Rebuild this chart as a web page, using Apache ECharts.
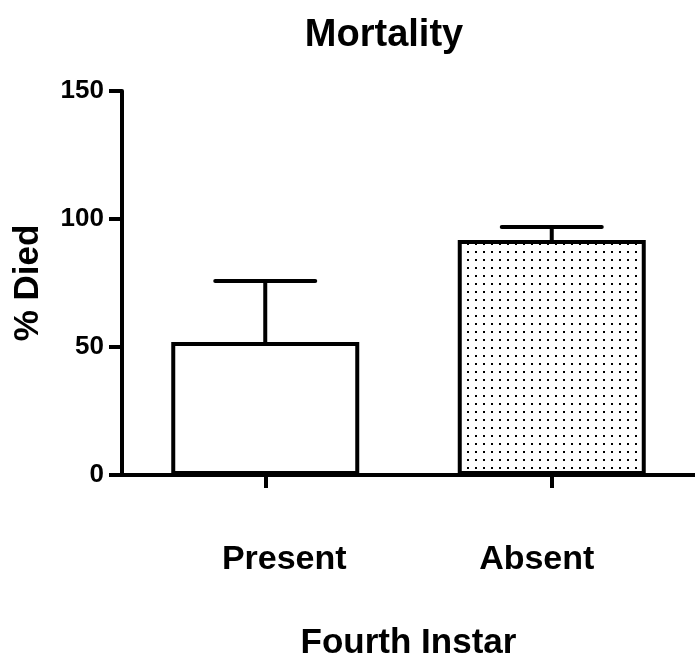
<!DOCTYPE html>
<html>
<head>
<meta charset="utf-8">
<script src="https://cdn.jsdelivr.net/npm/echarts@6/dist/echarts.min.js"></script>
<style>
  html, body { margin: 0; padding: 0; background: #fff; }
  #chart { width: 695px; height: 663px; }
</style>
</head>
<body>
<div id="chart"></div>
<script>
var categories = ['Present', 'Absent'];
var meanValues = [52, 91.8];
var errorValues = [23.8, 5.1];
var yTicks = [0, 50, 100, 150];

var FONT = '"Liberation Sans", Arial, sans-serif';

// dotted fill for the second bar
function dotPattern() {
    var c = document.createElement('canvas');
    c.width = 8;
    c.height = 8;
    var ctx = c.getContext('2d');
    ctx.fillStyle = '#fff';
    ctx.fillRect(0, 0, 8, 8);
    ctx.fillStyle = '#000';
    ctx.fillRect(3, 3, 2, 2);
    return c;
}

var dom = document.getElementById('chart');
var myChart = echarts.init(dom, null, { renderer: 'canvas' });

var barData = meanValues.map(function (v, i) {
    return {
        value: v,
        itemStyle: {
            color: i === 0 ? '#fff' : { image: dotPattern(), repeat: 'repeat' }
        }
    };
});

var errData = meanValues.map(function (v, i) {
    return [i, v, v + errorValues[i]];
});

var option = {
    animation: false,
    backgroundColor: '#fff',
    title: {
        text: 'Mortality',
        left: 379,
        top: 12,
        textAlign: 'center',
        textStyle: { fontFamily: FONT, fontWeight: 'bold', fontSize: 38, color: '#000' }
    },
    grid: {
        left: 122, right: 0, top: 91, bottom: 188,
        containLabel: false,
        outerBoundsMode: 'none'
    },
    xAxis: {
        type: 'category',
        data: [
            { value: categories[0], textStyle: { padding: [0, 0, 0, 38] } },
            { value: categories[1], textStyle: { padding: [0, 30, 0, 0] } }
        ],
        axisLine: { lineStyle: { color: '#000', width: 4 } },
        axisTick: {
            show: true,
            alignWithLabel: true,
            inside: false,
            length: 13,
            lineStyle: { color: '#000', width: 4 }
        },
        axisLabel: {
            margin: 68,
            fontFamily: FONT, fontWeight: 'bold', fontSize: 34, color: '#000'
        },
        name: 'Fourth Instar',
        nameLocation: 'middle',
        nameGap: 151,
        nameTextStyle: {
            fontFamily: FONT, fontWeight: 'bold', fontSize: 35, color: '#000'
        }
    },
    yAxis: {
        type: 'value',
        min: yTicks[0],
        max: yTicks[yTicks.length - 1],
        interval: 50,
        splitLine: { show: false },
        axisLine: { show: true, lineStyle: { color: '#000', width: 4 } },
        axisTick: { show: true, length: 13, lineStyle: { color: '#000', width: 4 } },
        axisLabel: {
            margin: 18,
            fontFamily: FONT, fontWeight: 'bold', fontSize: 26, color: '#000'
        },
        name: '% Died',
        nameLocation: 'middle',
        nameGap: 76,
        nameTextStyle: { fontFamily: FONT, fontWeight: 'bold', fontSize: 35, color: '#000' }
    },
    series: [
        {
            type: 'bar',
            data: barData,
            barWidth: 188,
            itemStyle: { borderColor: '#000', borderWidth: 4 },
            z: 2
        },
        {
            type: 'custom',
            data: errData,
            z: 3,
            renderItem: function (params, api) {
                var x = api.value(0);
                var lo = api.coord([x, api.value(1)]);
                var hi = api.coord([x, api.value(2)]);
                var half = 50;
                var style = { stroke: '#000', lineWidth: 4, lineCap: 'round' };
                return {
                    type: 'group',
                    children: [
                        { type: 'line', shape: { x1: lo[0], y1: lo[1], x2: hi[0], y2: hi[1] }, style: style },
                        { type: 'line', shape: { x1: hi[0] - half, y1: hi[1], x2: hi[0] + half, y2: hi[1] }, style: style }
                    ]
                };
            }
        }
    ]
};

myChart.setOption(option, true);

window.onresize = function () {
    myChart.resize();
};
</script>
</body>
</html>
